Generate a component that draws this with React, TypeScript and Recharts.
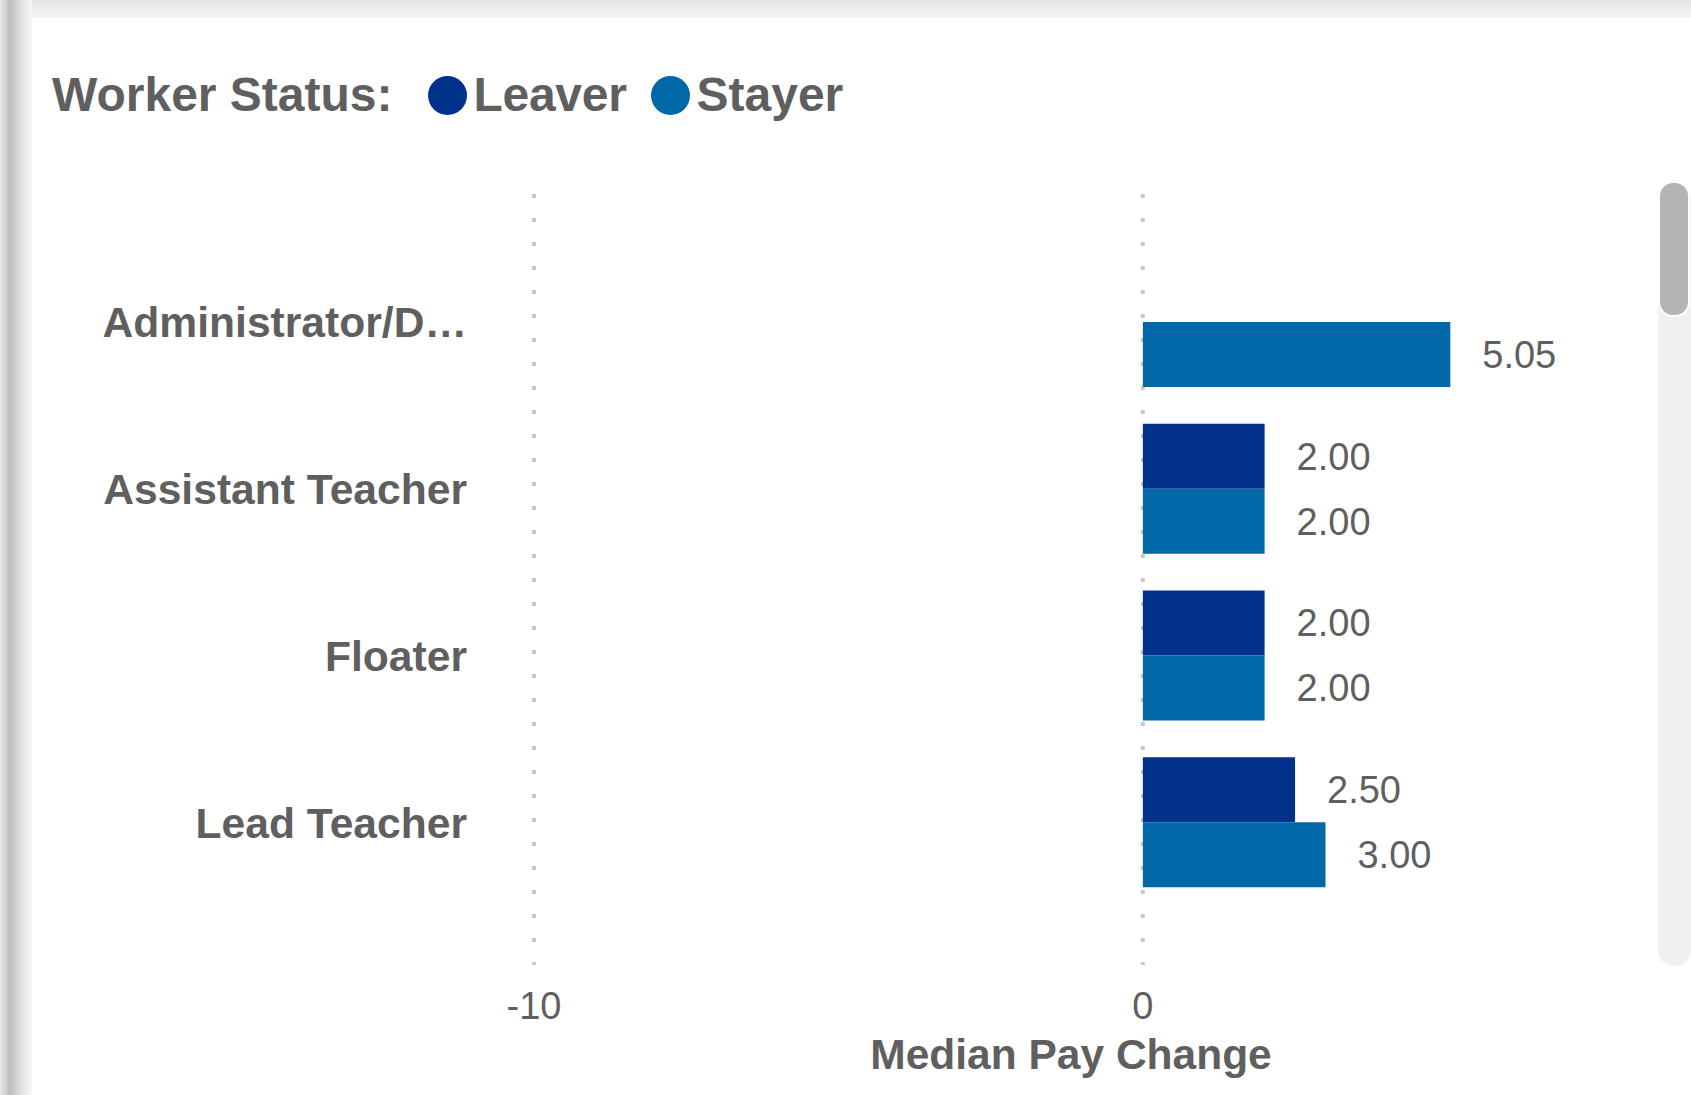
import React from 'react';
import { BarChart, Bar, XAxis, YAxis, CartesianGrid, LabelList } from 'recharts';

// values
const roles = ['Administrator/D…', 'Assistant Teacher', 'Floater', 'Lead Teacher'];
const leaver: (number | null)[] = [null, 2.0, 2.0, 2.5];
const stayer: (number | null)[] = [5.05, 2.0, 2.0, 3.0];
const xTicks = [-10, 0];

const LEAVER = '#01318A';
const STAYER = '#0068A7';
const TEXT = '#5f5f5f';
const FONT = '"Liberation Sans", Arial, Helvetica, sans-serif';

const data = roles.map((name, i) => ({ name, Leaver: leaver[i], Stayer: stayer[i] }));

const fmt = (v: any) => (v == null ? '' : Number(v).toFixed(2));

const Legend2 = () => (
    <div
        style={{
            position: 'absolute',
            left: 52,
            top: 65,
            display: 'flex',
            alignItems: 'center',
            fontFamily: FONT,
            fontWeight: 'bold',
            fontSize: 48,
            color: TEXT,
            lineHeight: '60px',
        }}
    >
        <span style={{ marginRight: 35 }}>Worker Status:</span>
        <span style={{ width: 39, height: 39, borderRadius: '50%', background: LEAVER, marginRight: 7 }} />
        <span style={{ marginRight: 24, letterSpacing: -0.3 }}>Leaver</span>
        <span style={{ width: 39, height: 39, borderRadius: '50%', background: STAYER, marginRight: 7 }} />
        <span>Stayer</span>
    </div>
);

const App: React.FC = () => {
    return (
        <div style={{ position: 'fixed', left: 0, top: 0, width: 1691, height: 1095, background: '#fff', overflow: 'hidden' }}>
            {/* page frame */}
            <div style={{ position: 'absolute', left: 0, top: 0, width: 1691, height: 18, background: 'linear-gradient(#e4e4e4, #f4f4f4)' }} />
            <div style={{ position: 'absolute', left: 0, top: 0, width: 32, height: 1095, background: 'linear-gradient(90deg, #e8e8e8 0px, #bdbdbd 10px, #e2e2e2 22px, #f8f8f8 32px)' }} />
            {/* scrollbar */}
            <div style={{ position: 'absolute', left: 1658, top: 182, width: 33, height: 784, background: '#f0f0f0', borderRadius: 16 }} />
            <div style={{ position: 'absolute', left: 1658, top: 181, width: 28, height: 132, background: '#b4b4b4', borderRadius: 15, border: '2px solid #fff' }} />

            <Legend2 />

            <div style={{ position: 'absolute', left: 0, top: 0 }}>
                <BarChart
                    width={1691}
                    height={1095}
                    data={data}
                    layout="vertical"
                    barGap={0}
                    margin={{ top: 194, right: 83, bottom: 30, left: 34 }}
                >
                    <CartesianGrid horizontal={false} syncWithTicks stroke="#c8c8c8" strokeWidth={4} strokeDasharray="4 20" />
                    <XAxis
                        type="number"
                        domain={[-10, 7.64]}
                        ticks={xTicks}
                        axisLine={false}
                        tickLine={false}
                        tickSize={0}
                        tickMargin={27}
                        height={100}
                        tick={{ fill: TEXT, fontSize: 38, fontFamily: FONT }}
                        label={{
                            value: 'Median Pay Change',
                            position: 'insideBottom',
                            offset: -4,
                            fill: TEXT,
                            fontSize: 42.5,
                            fontWeight: 'bold',
                            fontFamily: FONT,
                        }}
                    />
                    <YAxis
                        type="category"
                        dataKey="name"
                        width={500}
                        axisLine={false}
                        tickLine={false}
                        tickSize={0}
                        tickMargin={67}
                        padding={{ top: 45, bottom: 59 }}
                        tick={{ fill: TEXT, fontSize: 42.6, fontWeight: 'bold', fontFamily: FONT }}
                    />
                    <Bar dataKey="Leaver" fill={LEAVER} barSize={65} isAnimationActive={false}>
                        <LabelList dataKey="Leaver" position="right" offset={32} formatter={fmt} fill={TEXT} fontSize={38} fontFamily={FONT} />
                    </Bar>
                    <Bar dataKey="Stayer" fill={STAYER} barSize={65} isAnimationActive={false}>
                        <LabelList dataKey="Stayer" position="right" offset={32} formatter={fmt} fill={TEXT} fontSize={38} fontFamily={FONT} />
                    </Bar>
                </BarChart>
            </div>
        </div>
    );
};

export default App;
